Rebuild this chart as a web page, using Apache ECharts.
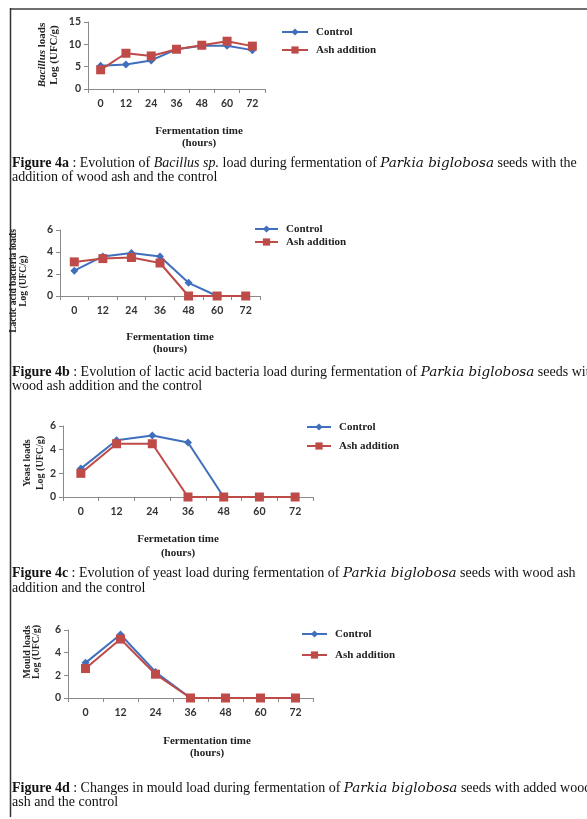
<!DOCTYPE html>
<html>
<head>
<meta charset="utf-8">
<script src="https://cdn.jsdelivr.net/npm/echarts@6/dist/echarts.min.js"></script>
<style>html,body{margin:0;padding:0;background:#fff;overflow:hidden;}#c{width:587px;height:819px;}</style>
</head>
<body>
<div id="c"></div>
<script>
const hours = ['0', '12', '24', '36', '48', '60', '72'];
const bacillusControl = [5.2, 5.5, 6.4, 8.9, 9.7, 9.7, 8.7];
const bacillusAsh = [4.3, 8.0, 7.4, 8.9, 9.8, 10.7, 9.6];
const labControl = [2.3, 3.6, 3.9, 3.6, 1.2, 0, 0];
const labAsh = [3.1, 3.4, 3.5, 3.0, 0, 0, 0];
const yeastControl = [2.4, 4.8, 5.2, 4.6, 0, 0, 0];
const yeastAsh = [2.0, 4.5, 4.5, 0, 0, 0, 0];
const mouldControl = [3.1, 5.6, 2.3, 0, 0, 0, 0];
const mouldAsh = [2.6, 5.2, 2.1, 0, 0, 0, 0];
const yMax = [15, 6, 6, 6];
const yInterval = [5, 2, 2, 2];
const seriesNames = ['Control', 'Ash addition'];

const BLUE = '#3f6fbd';
const RED = '#be4b48';
const serif = '"Liberation Serif", "DejaVu Serif", serif';
const sans = 'Lato, "Open Sans", sans-serif';

const grids = [
  {left: 88, top: 22, width: 177, height: 67},
  {left: 60, top: 230, width: 200, height: 66},
  {left: 63, top: 426, width: 250, height: 71},
  {left: 68, top: 630, width: 245, height: 68}
];
const legends = [
  {left: 281, top: 26.5, itemGap: 7, w: 26},
  {left: 254, top: 223.5, itemGap: 2, w: 23},
  {left: 306, top: 421.5, itemGap: 8, w: 24},
  {left: 301, top: 628.5, itemGap: 10, w: 25}
];
const dataSets = [
  [bacillusControl, bacillusAsh],
  [labControl, labAsh],
  [yeastControl, yeastAsh],
  [mouldControl, mouldAsh]
];

const axisLineStyle = {color: '#8a8a8a', width: 1};
const xAxis = grids.map((g, i) => ({
  type: 'category', gridIndex: i, data: hours, boundaryGap: true,
  axisLine: {lineStyle: axisLineStyle},
  axisTick: {show: true, length: 4, lineStyle: axisLineStyle},
  axisLabel: {color: '#333', fontFamily: sans, fontSize: 10.5, fontWeight: 'bold', margin: 9}
}));
const yAxis = grids.map((g, i) => ({
  type: 'value', gridIndex: i, min: 0, max: yMax[i], interval: yInterval[i],
  splitLine: {show: false},
  axisLine: {show: true, lineStyle: axisLineStyle},
  axisTick: {show: true, length: 4, lineStyle: axisLineStyle},
  axisLabel: {color: '#333', fontFamily: sans, fontSize: 10.5, fontWeight: 'bold', margin: 7}
}));
const series = [];
dataSets.forEach((pair, i) => {
  series.push({
    name: seriesNames[0], type: 'line', xAxisIndex: i, yAxisIndex: i, data: pair[0],
    symbol: 'diamond', symbolSize: 8, color: BLUE,
    lineStyle: {width: 2, color: BLUE}, itemStyle: {color: BLUE}, animation: false
  });
  series.push({
    name: seriesNames[1], type: 'line', xAxisIndex: i, yAxisIndex: i, data: pair[1],
    symbol: 'rect', symbolSize: 9, color: RED,
    lineStyle: {width: 2, color: RED}, itemStyle: {color: RED}, animation: false
  });
});
const legend = legends.map(l => ({
  data: seriesNames, orient: 'vertical', left: l.left, top: l.top, itemGap: l.itemGap,
  itemWidth: l.w, itemHeight: 9, padding: 0, selectedMode: false,
  textStyle: {fontFamily: serif, fontWeight: 'bold', fontSize: 11, color: '#222', padding: [0, 0, 0, 3]}
}));

function txt(x, y, text, opts) {
  return {
    type: 'text', x: x, y: y, silent: true,
    style: Object.assign({
      text: text, fontFamily: serif, fontSize: 11, fontWeight: 'bold', fill: '#222',
      textAlign: 'center', textVerticalAlign: 'middle'
    }, opts || {})
  };
}
function rot(x, y, text, size, lh, rich) {
  const t = txt(x, y, text, {fontSize: size, lineHeight: lh, rich: rich});
  t.rotation = Math.PI / 2;
  return t;
}
const capRich = {
  b: {fontFamily: serif, fontWeight: 'bold', fontSize: 14, fill: '#111'},
  i: {fontFamily: serif, fontStyle: 'italic', fontSize: 14, fill: '#111'},
  p: {fontFamily: '"DejaVu Serif", serif', fontStyle: 'italic', fontSize: 13.5, fill: '#111'},
  n: {fontFamily: serif, fontSize: 14, fill: '#111'}
};
function cap(x, y, text) {
  return {
    type: 'text', x: x, y: y, silent: true,
    style: {text: text, rich: capRich, fontFamily: serif, fontSize: 14, fill: '#111',
      textAlign: 'left', textVerticalAlign: 'middle'}
  };
}
const ytRich = sz => ({
  i: {fontFamily: serif, fontStyle: 'italic', fontWeight: 'bold', fontSize: sz, fill: '#222'},
  n: {fontFamily: serif, fontWeight: 'bold', fontSize: sz, fill: '#222'}
});

const graphic = [
  {type: 'line', silent: true, shape: {x1: 10, y1: 9, x2: 587, y2: 9}, style: {stroke: '#6f6f6f', lineWidth: 2}},
  {type: 'line', silent: true, shape: {x1: 10.5, y1: 8, x2: 10.5, y2: 817}, style: {stroke: '#333', lineWidth: 1.5}},
  // y axis titles
  rot(48, 55, '{i|Bacillus}{n| loads}\n{n|Log (UFC/g)}', 11, 12, ytRich(11)),
  rot(19, 281, '{n|Lactic acid bacteria loads}\n{n|Log (UFC/g)}', 9.5, 10, ytRich(9.5)),
  rot(34, 463, '{n|Yeast loads}\n{n|Log (UFC/g)}', 10, 13, ytRich(10)),
  rot(32, 652, '{n|Mould loads}\n{n|Log (UFC/g)}', 10, 9, ytRich(10)),
  // x axis titles
  txt(199, 131, 'Fermentation time'), txt(199, 143, '(hours)'),
  txt(170, 337, 'Fermentation time'), txt(170, 349, '(hours)'),
  txt(178, 539, 'Fermetation time'), txt(178, 553, '(hours)'),
  txt(207, 741, 'Fermentation time'), txt(207, 753, '(hours)'),
  // captions
  cap(12, 163, '{b|Figure 4a}{n| : Evolution of }{i|Bacillus sp.}{n| load during fermentation of }{p|Parkia biglobosa}{n| seeds with the}'),
  cap(12, 177, '{n|addition of wood ash and the control}'),
  cap(12, 372, '{b|Figure 4b}{n| : Evolution of lactic acid bacteria load during fermentation of }{p|Parkia biglobosa}{n| seeds with}'),
  cap(12, 386, '{n|wood ash addition and the control}'),
  cap(12, 573, '{b|Figure 4c}{n| : Evolution of yeast load during fermentation of }{p|Parkia biglobosa}{n| seeds with wood ash}'),
  cap(12, 588, '{n|addition and the control}'),
  cap(12, 788, '{b|Figure 4d}{n| : Changes in mould load during fermentation of }{p|Parkia biglobosa}{n| seeds with added wood}'),
  cap(12, 802, '{n|ash and the control}')
];

const chart = echarts.init(document.getElementById('c'), null, {renderer: 'canvas'});
chart.setOption({
  backgroundColor: '#fff',
  animation: false,
  grid: grids,
  xAxis: xAxis,
  yAxis: yAxis,
  legend: legend,
  series: series,
  graphic: graphic
});
</script>
</body>
</html>
